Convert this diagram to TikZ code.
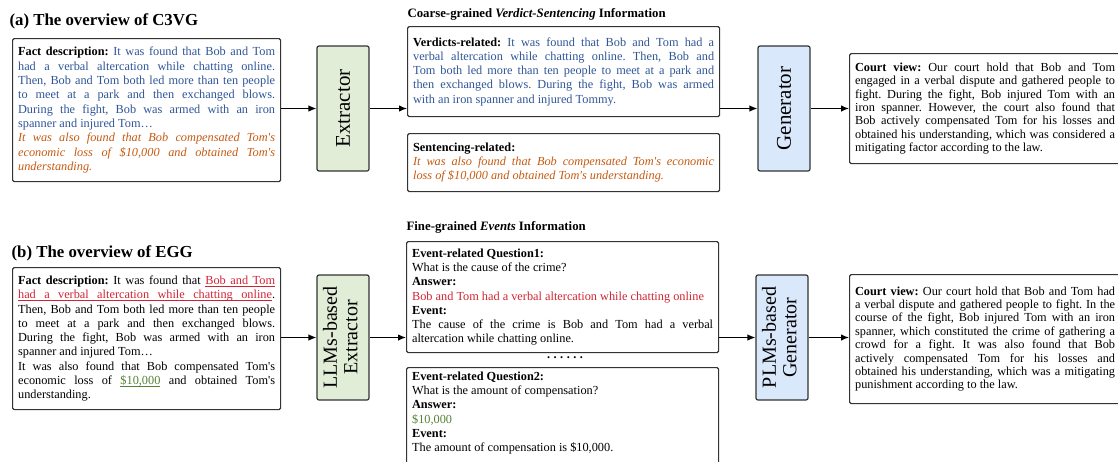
\documentclass[tikz,border=0pt]{standalone}
\usepackage{fontspec}
\setmainfont{Liberation Serif}
\usetikzlibrary{arrows.meta}
\definecolor{blueT}{RGB}{47,85,151}
\definecolor{orangeT}{RGB}{197,90,17}
\definecolor{redT}{RGB}{208,36,52}
\definecolor{greenT}{RGB}{84,130,53}
\definecolor{extFill}{RGB}{226,237,216}
\definecolor{genFill}{RGB}{218,232,252}
\frenchspacing
%underlined word and underlined space
\newcommand{\ulw}[1]{\setbox0\hbox{#1}\rlap{\rule[-2.2pt]{\wd0}{0.6pt}}\box0}
\newcommand{\ulsp}{\leaders\hrule height -1.6pt depth 2.2pt\hskip\fontdimen2\font plus\fontdimen3\font minus\fontdimen4\font}
\begin{document}
\begin{tikzpicture}[x=1pt, y=-1pt, line width=1.2pt, >={Latex[length=8pt,width=6.5pt]},
    titletext/.style={inner sep=0pt, anchor=west, font=\fontsize{16.8}{20}\selectfont\bfseries},
    headtext/.style={inner sep=0pt, anchor=west, font=\fontsize{12.8}{15}\selectfont\bfseries},
    infobox/.style={draw=black!80, rounded corners=1.5pt, inner xsep=5.5pt, inner ysep=4pt, anchor=north west, align=justify, font=\fontsize{12.3}{14.3}\selectfont},
    courtbox/.style={infobox, text width=260pt, font=\fontsize{12.3}{13.4}\selectfont},
    extbox/.style={draw=black!80, fill=extFill, rounded corners=2pt, minimum width=52pt, minimum height=125pt, inner sep=0pt},
    genbox/.style={extbox, fill=genFill}]
    \useasboundingbox (0,0) rectangle (1118,461);
    \clip (0,0) rectangle (1118,461);
    %Titles
    \node[titletext] (titleA) at (9,21) {(a) The overview of C3VG};
    \node[titletext] (titleB) at (11,253) {(b) The overview of EGG};
    \node[headtext] (headA) at (407,14) {Coarse-grained \textit{Verdict-Sentencing} Information};
    \node[headtext] (headB) at (406,227) {Fine-grained \textit{Events} Information};
    %C3VG
    \node[infobox, text width=257pt, minimum height=143pt] (factA) at (12,38) {{\bfseries Fact description:} {\color{blueT}It was found that Bob and Tom\linebreak had a verbal altercation while chatting online.\linebreak Then, Bob and Tom both led more than ten people\linebreak to meet at a park and then exchanged blows.\linebreak During the fight, Bob was armed with an iron\linebreak spanner and injured Tom…}\par
        {\color{orangeT}\itshape It was also found that Bob compensated Tom\textquotesingle s\linebreak economic loss of \$10,000 and obtained Tom\textquotesingle s\linebreak understanding.}};
    \node[extbox] (extA) at (343,108.5) {\fontsize{21}{22}\selectfont\rotatebox{90}{Extractor}};
    \node[infobox, text width=301pt, minimum height=90pt] (verdA) at (407,26) {{\bfseries Verdicts-related:} {\color{blueT}It was found that Bob and Tom had a\linebreak verbal altercation while chatting online. Then, Bob and\linebreak Tom both led more than ten people to meet at a park and\linebreak then exchanged blows. During the fight, Bob was armed\linebreak with an iron spanner and injured Tommy.}};
    \node[infobox, text width=301pt, minimum height=58pt] (sentA) at (407,133) {{\bfseries Sentencing-related:}\par
        {\color{orangeT}\itshape It was also found that Bob compensated Tom\textquotesingle s economic\linebreak loss of \$10,000 and obtained Tom\textquotesingle s understanding.}};
    \node[genbox] (genA) at (784,108.5) {\fontsize{21}{22}\selectfont\rotatebox{90}{Generator}};
    \node[courtbox, minimum height=110pt] (courtA) at (849,53) {{\bfseries Court view:} Our court hold that Bob and Tom\linebreak engaged in a verbal dispute and gathered people to\linebreak fight. During the fight, Bob injured Tom with an\linebreak iron spanner. However, the court also found that\linebreak Bob actively compensated Tom for his losses and\linebreak obtained his understanding, which was considered a\linebreak mitigating factor according to the law.};
    \draw[->] (factA.east |- extA.west) -- (extA.west);
    \draw[->] (extA.east) -- (extA.east -| verdA.west);
    \draw[->] (verdA.east |- genA.west) -- (genA.west);
    \draw[->] (genA.east) -- (genA.east -| courtA.west);
    %EGG
    \node[infobox, text width=257pt, minimum height=142pt] (factB) at (12,267) {{\bfseries Fact description:} It was found that {\color{redT}\ulw{Bob}\ulsp\ulw{and}\ulsp\ulw{Tom}}\linebreak {\color{redT}\ulw{had}\ulsp\ulw{a}\ulsp\ulw{verbal}\ulsp\ulw{altercation}\ulsp\ulw{while}\ulsp\ulw{chatting}\ulsp\ulw{online}}.\linebreak Then, Bob and Tom both led more than ten people\linebreak to meet at a park and then exchanged blows.\linebreak During the fight, Bob was armed with an iron\linebreak spanner and injured Tom…\par
        It was also found that Bob compensated Tom\textquotesingle s\linebreak economic loss of {\color{greenT}\ulw{\$10,000}} and obtained Tom\textquotesingle s\linebreak understanding.};
    \node[extbox] (extB) at (343,337.5) {\fontsize{20}{20.5}\selectfont\rotatebox{90}{\begin{tabular}{@{}c@{}}LLMs-based\\Extractor\end{tabular}}};
    \node[infobox, text width=301pt, minimum height=111pt] (evtA) at (406,241) {{\bfseries Event-related Question1:}\par What is the cause of the crime?\par {\bfseries Answer:}\par {\color{redT}Bob and Tom had a verbal altercation while chatting online}\par {\bfseries Event:}\par The cause of the crime is Bob and Tom had a verbal\linebreak altercation while chatting online.};
    \node[inner sep=0pt, font=\fontsize{12.3}{14}\selectfont\bfseries] (dots) at (565,358) {.\hspace{3.5pt}.\hspace{3.5pt}.\hspace{3.5pt}.\hspace{3.5pt}.\hspace{3.5pt}.};
    \node[infobox, text width=301pt] (evtB) at (406,367) {{\bfseries Event-related Question2:}\par What is the amount of compensation?\par {\bfseries Answer:}\par {\color{greenT}\$10,000}\par {\bfseries Event:}\par The amount of compensation is \$10,000.\par\strut};
    \node[genbox] (genB) at (782,337.5) {\fontsize{20}{20.5}\selectfont\rotatebox{90}{\begin{tabular}{@{}c@{}}PLMs-based\\Generator\end{tabular}}};
    \node[courtbox, minimum height=129pt] (courtB) at (849,274) {{\bfseries Court view:} Our court hold that Bob and Tom had\linebreak a verbal dispute and gathered people to fight. In the\linebreak course of the fight, Bob injured Tom with an iron\linebreak spanner, which constituted the crime of gathering a\linebreak crowd for a fight. It was also found that Bob\linebreak actively compensated Tom for his losses and\linebreak obtained his understanding, which was a mitigating\linebreak punishment according to the law.};
    \draw[->] (factB.east |- extB.west) -- (extB.west);
    \draw[->] (extB.east) -- (extB.east -| evtA.west);
    \draw[->] (evtA.east |- genB.west) -- (genB.west);
    \draw[->] (genB.east) -- (genB.east -| courtB.west);
\end{tikzpicture}
\end{document}
